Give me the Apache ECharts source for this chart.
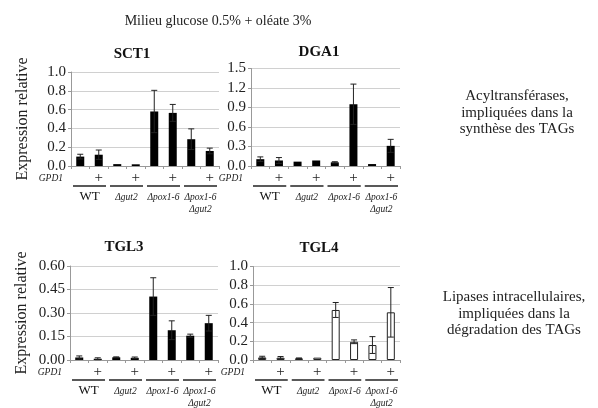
<!DOCTYPE html>
<html><head><meta charset="utf-8">
<script src="https://cdn.jsdelivr.net/npm/echarts/dist/echarts.min.js"></script>
<style>html,body{margin:0;padding:0;background:#fff}#c{width:598px;height:408px}</style>
</head><body><div id="c"></div>
<script>
// ---- data ----
const categories = ['WT', 'WT GPD1', 'gut2', 'gut2 GPD1', 'pox1-6', 'pox1-6 GPD1', 'pox1-6 gut2', 'pox1-6 gut2 GPD1'];
const plusLabels = ['', '+', '', '+', '', '+', '', '+'];
const groups = ['WT', 'Δgut2', 'Δpox1-6', 'Δpox1-6\nΔgut2'];
const sct1 = [0.10, 0.12, 0.02, 0.018, 0.58, 0.565, 0.285, 0.16];
const sct1Err = [0.025, 0.05, 0, 0, 0.225, 0.09, 0.11, 0.03];
const dga1 = [0.105, 0.085, 0.067, 0.085, 0.056, 0.95, 0.03, 0.31];
const dga1Err = [0.035, 0.045, 0, 0, 0.01, 0.31, 0, 0.1];
const tgl3 = [0.016, 0.008, 0.017, 0.014, 0.405, 0.19, 0.155, 0.235];
const tgl3Err = [0.01, 0.006, 0.003, 0.005, 0.12, 0.06, 0.01, 0.05];
const tgl4 = [0.028, 0.025, 0.018, 0.025, 0.535, 0.195, 0.16, 0.51];
const tgl4Err = [0.012, 0.012, 0.004, 0, 0.08, 0.02, 0.09, 0.265];
const yTicksSCT1 = [0, 1, 0.2], yTicksDGA1 = [0, 1.5, 0.3], yTicksTGL3 = [0, 0.6, 0.15], yTicksTGL4 = [0, 1, 0.2];
const mainTitle = 'Milieu glucose 0.5% + oléate 3%';
const yName = 'Expression relative';
const gpdLabel = 'GPD1';
const noteTop = 'Acyltransférases,\nimpliquées dans la\nsynthèse des TAGs';
const noteBottom = 'Lipases intracellulaires,\nimpliquées dans la\ndégradation des TAGs';

// ---- layout ----
const F = 'Liberation Serif';
const panels = [
  {name: 'SCT1', data: sct1, err: sct1Err, ticks: yTicksSCT1, dec: 1, hollow: false, yName: true,
   left: 71, top: 72, width: 148, height: 94, tx: 132, ty: 47},
  {name: 'DGA1', data: dga1, err: dga1Err, ticks: yTicksDGA1, dec: 1, hollow: false, yName: false,
   left: 251, top: 68.5, width: 149, height: 97.5, tx: 319, ty: 45},
  {name: 'TGL3', data: tgl3, err: tgl3Err, ticks: yTicksTGL3, dec: 2, hollow: false, yName: true,
   left: 70, top: 266, width: 148, height: 94, tx: 124, ty: 240},
  {name: 'TGL4', data: tgl4, err: tgl4Err, ticks: yTicksTGL4, dec: 1, hollow: true, yName: false,
   left: 253, top: 266.5, width: 147, height: 94.5, tx: 319, ty: 241}
];

const chart = echarts.init(document.getElementById('c'), null, {renderer: 'canvas'});
const grid = [], xAxis = [], yAxis = [], series = [], title = [];
title.push({text: mainTitle, left: 218, top: 14, textAlign: 'center', padding: 0,
  textStyle: {fontFamily: F, fontSize: 14, fontWeight: 'normal', color: '#222'}});
panels.forEach((p, k) => {
  grid.push({left: p.left, top: p.top, width: p.width, height: p.height});
  title.push({text: p.name, left: p.tx, top: p.ty, textAlign: 'center', padding: 0,
    textStyle: {fontFamily: F, fontSize: 15, fontWeight: 'bold', color: '#111'}});
  xAxis.push({type: 'category', gridIndex: k, data: categories,
    axisLine: {lineStyle: {color: '#999', width: 1}},
    axisTick: {show: true, length: 3, lineStyle: {color: '#999'}},
    axisLabel: {interval: 0, margin: 5, fontFamily: F, fontSize: 15, color: '#222',
      formatter: (v, i) => plusLabels[i]}});
  xAxis.push({type: 'category', gridIndex: k, data: groups, position: 'bottom',
    axisLine: {show: false}, axisTick: {show: false}, splitLine: {show: false},
    axisLabel: {interval: 0, margin: 25, verticalAlign: 'top',
      formatter: v => v === 'WT' ? '{n|WT}' : v.split('\n').map(s => '{i|' + s + '}').join('\n'),
      rich: {n: {fontFamily: F, fontSize: 13, color: '#111', lineHeight: 12},
             i: {fontFamily: F, fontSize: 9.5, fontStyle: 'italic', color: '#222', lineHeight: 12}}}});
  yAxis.push({type: 'value', gridIndex: k, min: p.ticks[0], max: p.ticks[1], interval: p.ticks[2],
    name: p.yName ? yName : '', nameLocation: 'middle', nameGap: 40,
    nameTextStyle: {fontFamily: F, fontSize: 16, color: '#222'},
    axisLine: {show: true, lineStyle: {color: '#999'}},
    axisTick: {show: true, length: 3, lineStyle: {color: '#999'}},
    splitLine: {lineStyle: {color: '#d0d0d0', width: 1}},
    axisLabel: {margin: 5, fontFamily: F, fontSize: 15, color: '#222',
      formatter: v => v.toFixed(p.dec)}});
  series.push({type: 'bar', xAxisIndex: 2 * k, yAxisIndex: k, data: p.data, barWidth: 8,
    itemStyle: p.hollow ? {color: '#fff', borderColor: '#222', borderWidth: 1} : {color: '#000'},
    silent: true, animation: false});
  series.push({type: 'custom', xAxisIndex: 2 * k, yAxisIndex: k, animation: false, silent: true, z: 5,
    data: p.data.map((v, i) => [i, v, p.err[i]]),
    encode: {x: 0, y: 1},
    renderItem: (params, api) => {
      const e = api.value(2);
      if (!e) return null;
      const i = api.value(0), v = api.value(1);
      const hi = api.coord([i, v + e]);
      const lo = api.coord([i, Math.max(0, v - e)]);
      const cw = 3;
      const st = {stroke: '#222', lineWidth: 1};
      return {type: 'group', children: [
        {type: 'line', shape: {x1: hi[0], y1: hi[1], x2: lo[0], y2: lo[1]}, style: st},
        {type: 'line', shape: {x1: hi[0] - cw, y1: hi[1], x2: hi[0] + cw, y2: hi[1]}, style: st},
        {type: 'line', shape: {x1: lo[0] - cw, y1: lo[1], x2: lo[0] + cw, y2: lo[1]}, style: st}
      ]};
    }});
});

chart.setOption({animation: false, title, grid, xAxis, yAxis, series});

// group underlines, GPD1 labels, side notes
const graphics = [];
panels.forEach((p, k) => {
  const c0 = chart.convertToPixel({xAxisIndex: 2 * k}, categories[0]);
  const c1 = chart.convertToPixel({xAxisIndex: 2 * k}, categories[1]);
  const band = c1 - c0;
  const y0 = chart.convertToPixel({yAxisIndex: k}, 0);
  groups.forEach((g, gi) => {
    const a = chart.convertToPixel({xAxisIndex: 2 * k}, categories[2 * gi]) - band / 2 + 2;
    const b = chart.convertToPixel({xAxisIndex: 2 * k}, categories[2 * gi + 1]) + band / 2 - 2;
    graphics.push({type: 'line', shape: {x1: a, y1: y0 + 20, x2: b, y2: y0 + 20},
      style: {stroke: '#222', lineWidth: 1.3}});
  });
  graphics.push({type: 'text', x: c0 - band / 2 - 8, y: y0 + 12,
    style: {text: gpdLabel, font: 'italic 9.5px ' + F, fill: '#222', textAlign: 'right', textVerticalAlign: 'middle'}});
});
graphics.push({type: 'text', x: 517, y: 113,
  style: {text: noteTop, font: '15px ' + F, fill: '#222', textAlign: 'center', textVerticalAlign: 'middle', lineHeight: 16.5}});
graphics.push({type: 'text', x: 514, y: 314,
  style: {text: noteBottom, font: '15px ' + F, fill: '#222', textAlign: 'center', textVerticalAlign: 'middle', lineHeight: 16.5}});
chart.setOption({graphic: graphics});
</script></body></html>
